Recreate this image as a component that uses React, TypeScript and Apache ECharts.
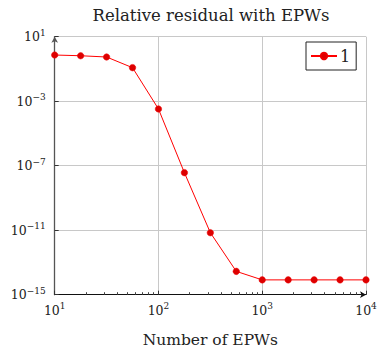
import React, { useEffect, useRef } from "react";
import * as echarts from "echarts";

const xValues = [10, 17.78, 31.62, 56.23, 100, 177.8, 316.2, 562.3, 1000, 1778, 3162, 5623, 10000];
const yValues = [0.73, 0.66, 0.55, 0.12, 3.3e-4, 3.7e-8, 7.0e-12, 2.8e-14, 8.3e-15, 8.3e-15, 8.3e-15, 8.3e-15, 8.3e-15];
const seriesName = "1";
const xMajorTicks = [10, 100, 1000, 10000];
const yMajorTicks = [1e-15, 1e-11, 1e-7, 1e-3, 10];
const xMinorTicks: number[] = [];
for (const d of [10, 100, 1000]) {
  for (const m of [2, 3, 4, 5, 6, 7, 8, 9]) xMinorTicks.push(m * d);
}
const titleText = "Relative residual with EPWs";
const xAxisName = "Number of EPWs";

const FONT = "DejaVu Serif";

function fmtPow(v: number) {
  const e = Math.round(Math.log10(v));
  const s = e < 0 ? "\u2212" + String(-e) : String(e);
  return "{b|10}{sup|" + s + "}";
}

const rich = {
  b: { fontSize: 12.5, fontFamily: FONT, color: "#222", lineHeight: 17 },
  sup: { fontSize: 9, fontFamily: FONT, color: "#222", lineHeight: 10, verticalAlign: "top" },
};

export default function App() {
  const ref = useRef<HTMLDivElement>(null);
  useEffect(() => {
    if (!ref.current) return;
    const chart = echarts.init(ref.current, undefined, { renderer: "svg" });
    const left = 54.7;
    const right = 377 - 366;
    const top = 36.7;
    const bottom = 348 - 294.7;
    chart.setOption({
      animation: false,
      textStyle: { fontFamily: FONT },
      grid: { left, right, top, bottom, containLabel: false, outerBoundsMode: "none" },
      graphic: [
        {
          type: "text",
          x: 211,
          y: 15.5,
          style: {
            text: titleText,
            fontSize: 16.5,
            fontFamily: FONT,
            fill: "#222",
            textAlign: "center",
            textVerticalAlign: "middle",
          },
        },
      ],
      legend: {
        left: 306,
        top: 42,
        orient: "vertical",
        padding: [6, 6, 6, 4],
        itemWidth: 26,
        itemHeight: 8,
        itemGap: 4,
        borderColor: "#222",
        borderWidth: 1,
        borderRadius: 0,
        backgroundColor: "#fff",
        textStyle: { fontSize: 16, fontFamily: FONT, color: "#222", padding: [0, 0, 0, -2] },
        data: [seriesName],
      },
      xAxis: [
        {
          type: "log",
          logBase: 10,
          min: 10,
          max: 10000,
          name: xAxisName,
          nameLocation: "middle",
          nameGap: 37,
          nameTextStyle: { fontSize: 15.5, fontFamily: FONT, color: "#222" },
          axisLine: {
            show: true,
            onZero: false,
            lineStyle: { color: "#111", width: 1 },
            symbol: ["none", "arrow"],
            symbolSize: [5, 6],
          },
          axisTick: { show: true, inside: true, length: 4, lineStyle: { color: "#333" }, customValues: xMajorTicks },
          axisLabel: { customValues: xMajorTicks, formatter: fmtPow, rich, margin: 7 },
          splitLine: { show: true, lineStyle: { color: "#c8c8c8", width: 1 } },
          minorTick: { show: false },
        },
        {
          type: "log",
          logBase: 10,
          min: 10,
          max: 10000,
          position: "bottom",
          axisLine: { show: false },
          axisTick: { show: true, inside: true, length: 2.5, lineStyle: { color: "#444" }, customValues: xMinorTicks },
          axisLabel: { show: false },
          splitLine: { show: false },
        },
      ],
      yAxis: {
        type: "log",
        logBase: 10,
        min: 1e-15,
        max: 10,
        axisLine: {
          show: true,
          onZero: false,
          lineStyle: { color: "#555", width: 1.3 },
          symbol: ["none", "arrow"],
          symbolSize: [5, 6],
        },
        axisTick: { show: true, inside: true, length: 4, lineStyle: { color: "#333" }, customValues: yMajorTicks },
        axisLabel: { customValues: yMajorTicks, formatter: fmtPow, rich, margin: 9 },
        splitLine: { show: true, lineStyle: { color: "#c8c8c8", width: 1 } },
      },
      series: [
        {
          name: seriesName,
          type: "line",
          xAxisIndex: 0,
          data: xValues.map((x, i) => [x, yValues[i]]),
          symbol: "circle",
          symbolSize: 6.5,
          showAllSymbol: true,
          lineStyle: { color: "#ff0000", width: 1 },
          itemStyle: { color: "#dd0000", borderColor: "#ee0000", borderWidth: 0.5 },
          emphasis: { disabled: true },
        },
      ],
    });
    return () => chart.dispose();
  }, []);
  return <div ref={ref} style={{ width: 377, height: 348, position: "absolute", left: 0, top: 0 }} />;
}
